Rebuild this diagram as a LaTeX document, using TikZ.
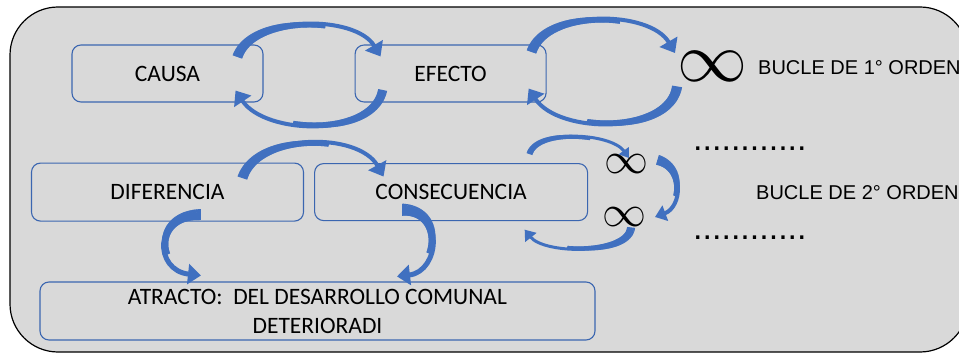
\documentclass[tikz,border=0pt]{standalone}
\usepackage{fontspec}
\setmainfont{Carlito}
\newfontfamily\buclefont{Liberation Sans}
\usetikzlibrary{arrows.meta,positioning,calc,decorations.markings}
\definecolor{panel}{HTML}{D9D9D9}
\definecolor{boxline}{HTML}{3B66B0}
\definecolor{arrowblue}{HTML}{4070C0}
\newcommand\stagefont{\fontsize{23.5}{29}\selectfont}

\begin{document}
\begin{tikzpicture}[x=1pt,y=1pt,
  stage/.style={draw=boxline,line width=1.1pt,rounded corners=9pt,minimum height=57pt,inner sep=0pt,align=center,font=\stagefont},
  bandarrow/.style n args={4}{draw=arrowblue,line width=#2pt,-{Triangle[length=#3pt,width=#4pt]},
    postaction={decorate,decoration={markings,mark=between positions 0 and 0.6 step 0.75pt with {%
      \pgfmathsetmacro\bandr{#2/2+(#1-#2)/2*(1-\pgfkeysvalueof{/pgf/decoration/mark info/distance from start}/(0.6*\pgfdecoratedpathlength))}%
      \fill[arrowblue] (-0.6pt,-\bandr pt) rectangle (0.6pt,\bandr pt);}}}}]
  \clip (0,0) rectangle (959,354);
  \draw[line width=1.2pt,fill=panel,rounded corners=48pt] (10,2) rectangle (968,347);
  % cause and effect loop
  \node[stage,minimum width=191pt] (causa) at (167.5,280.5) {CAUSA};
  \node[stage,minimum width=191pt,right=91pt of causa] (efecto) {EFECTO};
  \node[stage,minimum width=272pt,minimum height=58pt,below=60pt of causa] (diferencia) {DIFERENCIA};
  \node[stage,minimum width=273pt,right=10pt of diferencia] (consecuencia) {CONSECUENCIA};
  \node[stage,minimum width=555pt,minimum height=58pt] (atracto) at (317.5,43) {ATRACTO:\ \ DEL DESARROLLO COMUNAL\\DETERIORADI};
  \node[scale=7,inner sep=0pt] (inf1) at (712,288) {$\infty$};
  \node[scale=4.4,inner sep=0pt] (inf2) at (626,190) {$\infty$};
  \node[scale=4.4,inner sep=0pt] (inf3) at (624.5,137) {$\infty$};
  \node[font=\buclefont\fontsize{20}{24}\selectfont,anchor=west,inner sep=0pt] (bucle1) at (758,286) {BUCLE DE 1° ORDEN};
  \node[font=\buclefont\fontsize{20}{24}\selectfont,anchor=west,inner sep=0pt] (bucle2) at (756,161) {BUCLE DE 2° ORDEN};
  \node[font=\buclefont\fontsize{34}{34}\selectfont,anchor=base west,inner sep=0pt] (dots1) at (693,203) {............};
  \node[font=\buclefont\fontsize{34}{34}\selectfont,anchor=base west,inner sep=0pt] (dots2) at (693,114) {............};
  % curved block arrows
  \draw[bandarrow={10}{4}{13}{20}] ($(causa.north east)+(-26,-12)$) .. controls +(15,42) and +(-25,42) .. ($(efecto.north west)+(26,-12)$);
  \draw[bandarrow={9}{4}{13}{20}] ($(efecto.south west)+(28,12)$) .. controls +(-10,-47) and +(30,-45) .. ($(causa.south east)+(-28,12)$);
  \draw[bandarrow={10}{4}{13}{20}] ($(efecto.north east)+(-15,-7)$) .. controls +(15,43) and +(-25,43) .. ($(inf1)+(-37,13)$);
  \draw[bandarrow={10}{4}{13}{20}] ($(inf1)+(-35,-21)$) .. controls +(-8,-48) and +(30,-46) .. ($(efecto.south east)+(-18,14)$);
  \draw[bandarrow={10}{4}{13}{20}] ($(diferencia.north east)+(-61.5,-15)$) .. controls +(15,45) and +(-25,45) .. ($(consecuencia.north west)+(69.5,-13.5)$);
  \draw[bandarrow={6}{3}{9}{12}] ($(consecuencia.north east)+(-58.5,9.5)$) .. controls +(8,25) and +(-18,25) .. ($(inf2)+(3,6)$);
  \draw[bandarrow={10}{4}{11}{16}] ($(inf2)+(32,4)$) .. controls +(27,-8) and +(27,10) .. ($(inf3)+(30.5,0)$);
  \draw[bandarrow={8}{3}{10}{14}] ($(inf3)+(6.5,-11)$) .. controls +(-3,-27) and +(20,-25) .. ($(consecuencia.south east)+(-63.5,-8.5)$);
  \draw[bandarrow={11}{5}{13}{20}] ($(diferencia.south)+(32.5,7)$) .. controls +(-47,0) and +(-47,5) .. ($(atracto.north)+(-116.5,6)$);
  \draw[bandarrow={12}{5}{13}{20}] ($(consecuencia.south)+(-49,11.5)$) .. controls +(43,0) and +(43,5) .. ($(atracto.north)+(79.5,5)$);
\end{tikzpicture}
\end{document}
